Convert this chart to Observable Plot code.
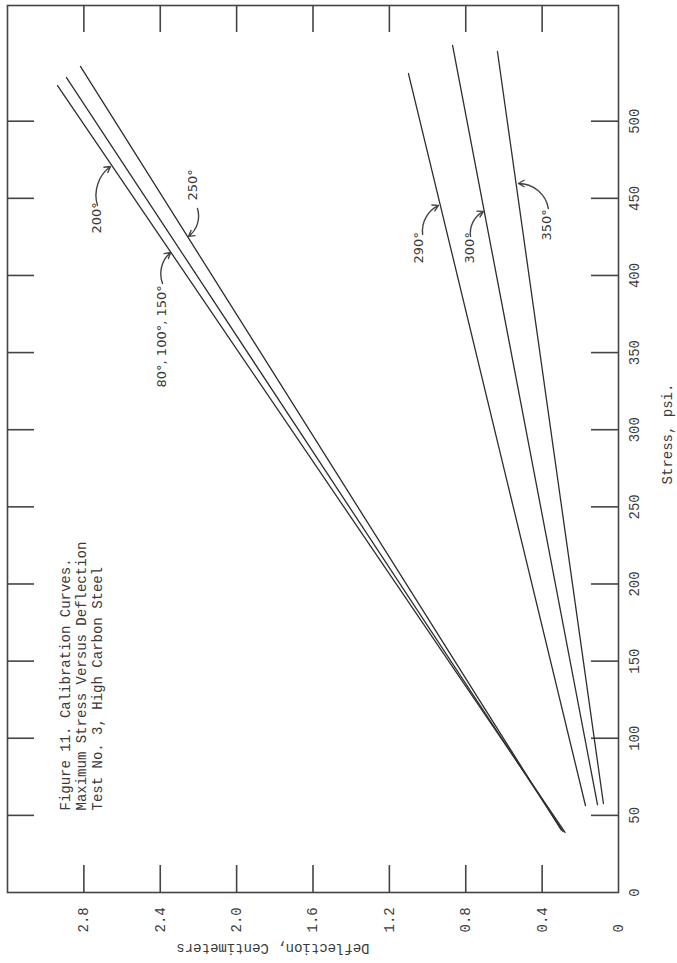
<!DOCTYPE html>
<html>
<head>
<meta charset="utf-8">
<script src="https://cdn.jsdelivr.net/npm/d3@7"></script>
<script src="https://cdn.jsdelivr.net/npm/@observablehq/plot@0.6"></script>
<style>
html, body { margin: 0; padding: 0; background: #ffffff; }
#chart svg { display: block; }
</style>
</head>
<body>
<div id="chart"></div>
<script>
// ---- data (stress in psi, deflection in cm) ----
const stressTicks = [50, 100, 150, 200, 250, 300, 350, 400, 450, 500];
const stressLabels = [0, 50, 100, 150, 200, 250, 300, 350, 400, 450, 500];
const deflTicks = [0.4, 0.8, 1.2, 1.6, 2.0, 2.4, 2.8];
const deflLabels = [0, 0.4, 0.8, 1.2, 1.6, 2.0, 2.4, 2.8];

const seriesNames = ["200°", "80°, 100°, 150°", "250°", "290°", "300°", "350°"];
const startStress = [39.0, 39.5, 40.5, 56.4, 57.0, 57.7];
const startDefl   = [0.28, 0.29, 0.30, 0.173, 0.110, 0.079];
const endStress   = [523.1, 528.3, 535.5, 530.9, 549.1, 545.2];
const endDefl     = [2.938, 2.891, 2.818, 1.100, 0.869, 0.634];

// annotation label anchors (data coords) and arrows
const labelDefl   = [2.734, 2.393, 2.231, 1.047, 0.780, 0.377];
const labelStress = [427.2, 327.4, 448.6, 407.8, 407.8, 422.7];
const arrowDefl1   = [2.729, 2.388, 2.205, 1.026, 0.775, 0.367];
const arrowStress1 = [445.4, 394.8, 443.4, 426.6, 425.3, 443.4];
const arrowDefl2   = [2.661, 2.346, 2.252, 0.943, 0.707, 0.524];
const arrowStress2 = [470.6, 414.9, 425.3, 445.4, 441.5, 459.6];
const arrowBend    = [35, 35, 35, 35, 35, -40];

const titleLines = ["Figure 11. Calibration Curves.", "Maximum Stress Versus Deflection", "Test No. 3, High Carbon Steel"];
const xLabel = "Stress, psi.";
const yLabel = "Deflection, Centimeters";

// ---- build tables ----
const lineData = seriesNames.flatMap((s, i) => [
  {series: s, stress: startStress[i], defl: startDefl[i]},
  {series: s, stress: endStress[i], defl: endDefl[i]}
]);
const labelData = seriesNames.map((s, i) => ({text: s, defl: labelDefl[i], stress: labelStress[i]}));
const arrowData = seriesNames.map((s, i) => ({
  x1: arrowDefl1[i], y1: arrowStress1[i], x2: arrowDefl2[i], y2: arrowStress2[i], bend: arrowBend[i]
}));

const ink = "#3a3a3a";
const mono = "Liberation Mono, DejaVu Sans Mono, monospace";
const sans = "DejaVu Sans, sans-serif";

const chart = Plot.plot({
  width: 677,
  height: 963,
  marginTop: 5,
  marginRight: 59,
  marginBottom: 71,
  marginLeft: 7,
  x: {domain: [3.2, 0], axis: null},
  y: {domain: [0, 575], axis: null},
  style: {background: "#ffffff", color: ink},
  marks: [
    Plot.frame({stroke: "#444", strokeWidth: 1.6}),
    // inward ticks on all four sides
    Plot.tickX(deflTicks, {x: d => d, insetTop: 860, stroke: "#444", strokeWidth: 1.6}),
    Plot.tickX(deflTicks, {x: d => d, insetBottom: 860, stroke: "#444", strokeWidth: 1.6}),
    Plot.tickY(stressTicks, {y: d => d, insetLeft: 584, stroke: "#444", strokeWidth: 1.6}),
    Plot.tickY(stressTicks, {y: d => d, insetRight: 584, stroke: "#444", strokeWidth: 1.6}),
    // tick labels
    Plot.text(deflLabels, {
      x: d => d, frameAnchor: "bottom", dy: 40, rotate: -90,
      textAnchor: "start", lineAnchor: "middle",
      text: d => d === 0 ? "0" : d.toFixed(1),
      fontFamily: mono, fontSize: 14, fill: ink
    }),
    Plot.text(stressLabels, {
      y: d => d, frameAnchor: "right", dx: 16, rotate: -90,
      textAnchor: "middle", lineAnchor: "middle",
      text: d => String(d),
      fontFamily: mono, fontSize: 14, fill: ink
    }),
    // axis titles
    Plot.text([xLabel], {
      frameAnchor: "right", dx: 49, dy: -15, rotate: -90,
      textAnchor: "middle", lineAnchor: "middle",
      fontFamily: mono, fontSize: 14, fill: ink
    }),
    Plot.text([yLabel], {
      frameAnchor: "bottom", dx: -40, dy: 56, rotate: 180,
      textAnchor: "middle", lineAnchor: "middle",
      fontFamily: mono, fontSize: 14, fill: ink
    }),
    // figure caption inside plot
    Plot.text([titleLines.join("\n")], {
      frameAnchor: "bottom-left", dx: 73, dy: -82, rotate: -90,
      textAnchor: "start", lineAnchor: "middle", lineHeight: 1.14,
      fontFamily: mono, fontSize: 14, fill: ink
    }),
    // calibration curves
    Plot.line(lineData, {x: "defl", y: "stress", z: "series", stroke: "#2e2e2e", strokeWidth: 1.3}),
    // annotation arrows and labels
    ...arrowData.map(a => Plot.arrow([a], {
      x1: "x1", y1: "y1", x2: "x2", y2: "y2", bend: a.bend,
      stroke: "#444", strokeWidth: 1.4, headLength: 7
    })),
    Plot.text(labelData, {
      x: "defl", y: "stress", text: "text", rotate: -90,
      textAnchor: "start", lineAnchor: "middle",
      fontFamily: sans, fontSize: 13, fill: ink
    })
  ]
});

document.getElementById("chart").append(chart);
</script>
</body>
</html>
